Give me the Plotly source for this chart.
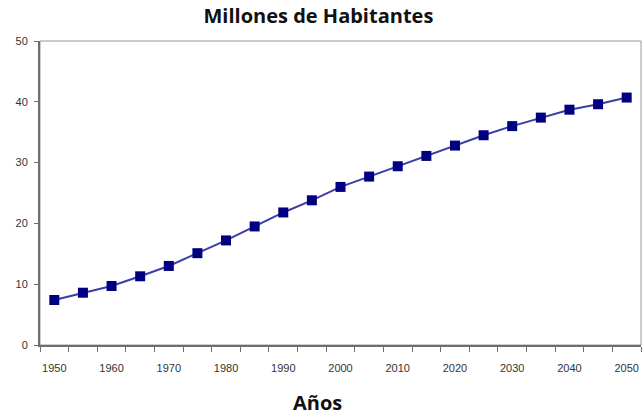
import plotly.graph_objects as go

# Population projection, millions of inhabitants, every 5 years
years = [1950, 1955, 1960, 1965, 1970, 1975, 1980, 1985, 1990, 1995, 2000,
         2005, 2010, 2015, 2020, 2025, 2030, 2035, 2040, 2045, 2050]
population = [7.4, 8.6, 9.7, 11.3, 13.0, 15.1, 17.2, 19.5, 21.8, 23.8, 26.0,
              27.7, 29.4, 31.1, 32.8, 34.5, 36.0, 37.4, 38.7, 39.6, 40.7]

label_years = list(range(1950, 2051, 10))
y_ticks = [0, 10, 20, 30, 40, 50]
# tick marks sit on the boundaries between the 5-year categories
boundary_ticks = [y - 2.5 for y in years] + [years[-1] + 2.5]

fig = go.Figure()
fig.add_trace(go.Scatter(
    x=years, y=population, mode="lines+markers",
    line=dict(color="#3d3da8", width=2),
    marker=dict(symbol="square", size=10, color="#000080",
                line=dict(width=0)),
    showlegend=False,
))

axis_font = dict(family="Liberation Sans, Arial, sans-serif", size=11, color="#333333")
title_font = dict(family="Open Sans, Liberation Sans, sans-serif", size=20, color="#111111")

fig.update_layout(
    width=642, height=415,
    margin=dict(l=40, r=1, t=41, b=70),
    paper_bgcolor="white", plot_bgcolor="white",
    title=dict(text="<b>Millones de Habitantes</b>", x=0.496, xref="container",
               y=0.962, yref="container", xanchor="center", yanchor="middle",
               font=title_font),
    xaxis=dict(
        range=[1947.5, 2052.5], tickvals=label_years, ticktext=[str(v) for v in label_years],
        ticks="", tickfont=axis_font, ticklabelstandoff=12,
        showgrid=False, zeroline=False,
        showline=True, linecolor="#6e6e6e", linewidth=2, mirror=False,
        minor=dict(tickvals=boundary_ticks, ticks="outside", ticklen=5,
                   tickcolor="#6e6e6e", tickwidth=1, showgrid=False),
    ),
    yaxis=dict(
        range=[0, 50], tickvals=y_ticks, ticks="outside", ticklen=4,
        tickcolor="#6e6e6e", tickfont=axis_font, ticklabelstandoff=4,
        showgrid=False, zeroline=False,
        showline=True, linecolor="#6e6e6e", linewidth=2, mirror=False,
    ),
    shapes=[dict(type="rect", xref="paper", yref="paper", x0=0, y0=0, x1=1, y1=1,
                 line=dict(color="#9a9a9a", width=1), layer="below")],
    annotations=[dict(text="<b>Años</b>", xref="paper", yref="paper",
                      x=0.461, y=-0.188, xanchor="center", yanchor="middle",
                      showarrow=False, font=title_font)],
)

fig.write_html("out.html")
